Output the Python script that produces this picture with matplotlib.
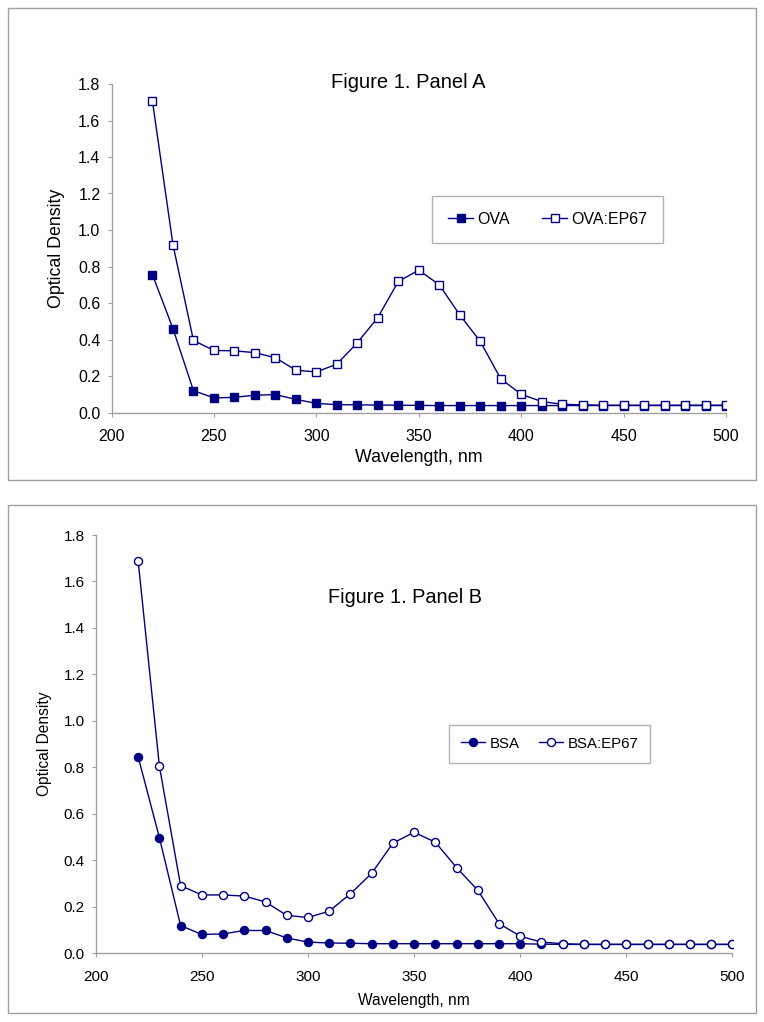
import numpy as np
import matplotlib
matplotlib.use("Agg")
from matplotlib import pyplot as plt
from matplotlib.patches import Rectangle
from matplotlib.ticker import FormatStrFormatter

plt.rcParams['font.family'] = ['Liberation Sans', 'DejaVu Sans']

# wavelengths, nm
wavelength = np.arange(220, 501, 10)

# panel A
ova = [0.755, 0.46, 0.12, 0.08, 0.083, 0.095, 0.098, 0.072, 0.05, 0.043,
       0.042, 0.041, 0.040, 0.039, 0.038, 0.038, 0.038, 0.038, 0.038, 0.038,
       0.038, 0.038, 0.038, 0.038, 0.038, 0.038, 0.038, 0.038, 0.038]
ova_ep67 = [1.705, 0.92, 0.395, 0.34, 0.338, 0.328, 0.30, 0.232, 0.222, 0.265,
            0.382, 0.52, 0.718, 0.78, 0.70, 0.535, 0.39, 0.185, 0.10, 0.06,
            0.045, 0.042, 0.04, 0.04, 0.04, 0.04, 0.04, 0.04, 0.04]

# panel B
bsa = [0.845, 0.497, 0.118, 0.08, 0.082, 0.097, 0.097, 0.065, 0.047, 0.043,
       0.042, 0.04, 0.04, 0.04, 0.04, 0.04, 0.04, 0.04, 0.04, 0.038,
       0.037, 0.037, 0.037, 0.037, 0.037, 0.037, 0.037, 0.037, 0.037]
bsa_ep67 = [1.688, 0.805, 0.29, 0.25, 0.25, 0.245, 0.22, 0.162, 0.153, 0.18,
            0.255, 0.343, 0.473, 0.52, 0.477, 0.368, 0.27, 0.127, 0.072, 0.047,
            0.04, 0.037, 0.037, 0.037, 0.037, 0.037, 0.037, 0.037, 0.037]

xticks = [200, 250, 300, 350, 400, 450, 500]
yticks = np.arange(0, 1.81, 0.2)

navy = '#000080'
grey = '#a0a0a0'

W, H = 764, 1022
fig = plt.figure(figsize=(W / 100, H / 100), dpi=100)

# outer frames around each panel (pixel coords -> figure fraction)
for (x0, y0, x1, y1) in [(8, 8, 756, 480), (8, 505, 756, 1013)]:
    fig.patches.append(Rectangle((x0 / W, 1 - y1 / H), (x1 - x0) / W, (y1 - y0) / H,
                                 transform=fig.transFigure, fill=False,
                                 edgecolor=grey, linewidth=1))


def px_axes(x0, y_top, x1, y_bot):
    return fig.add_axes([x0 / W, 1 - y_bot / H, (x1 - x0) / W, (y_bot - y_top) / H])


def setup(ax, tick_fs, label_fs, xlab_y, ylab_x):
    ax.set_xlim(200, 500)
    ax.set_ylim(0, 1.8)
    ax.set_xticks(xticks)
    ax.set_yticks(yticks)
    ax.yaxis.set_major_formatter(FormatStrFormatter('%.1f'))
    for s in ['top', 'right']:
        ax.spines[s].set_visible(False)
    for s in ['left', 'bottom']:
        ax.spines[s].set_color(grey)
        ax.spines[s].set_linewidth(1)
    ax.tick_params(direction='out', length=3, color=grey, labelsize=tick_fs)
    ax.tick_params(axis='x', pad=9)
    ax.tick_params(axis='y', pad=5)
    ax.set_xlabel('Wavelength, nm', fontsize=label_fs)
    ax.set_ylabel('Optical Density', fontsize=label_fs)
    ax.xaxis.set_label_coords(0.5, xlab_y)
    ax.yaxis.set_label_coords(ylab_x, 0.5)


# Panel A
axA = px_axes(111.5, 84, 726, 412.5)
axA.plot(wavelength, ova, '-s', color=navy, lw=1, ms=5.8, mfc=navy, mec=navy, label='OVA')
axA.plot(wavelength, ova_ep67, '-s', color=navy, lw=1, ms=5.8, mfc='white', mec=navy,
         label='OVA:EP67')
setup(axA, 11.5, 12.8, -0.11, -0.075)
fig.text(408 / W, 1 - 83 / H, 'Figure 1. Panel A', ha='center', va='center', fontsize=14.5)
legA = axA.legend(loc='center', bbox_to_anchor=((547.5 - 111.5) / 614.5, (412.5 - 219.5) / 328.5),
                  ncol=2, frameon=True, fancybox=False, edgecolor=grey, fontsize=11.5,
                  handlelength=1.6, columnspacing=2.0, borderpad=1.0, handletextpad=0.25,
                  markerscale=1.0)
legA.get_frame().set_linewidth(1)

# Panel B
axB = px_axes(95.7, 535, 732.5, 953)
axB.plot(wavelength, bsa, '-o', color=navy, lw=1, ms=5.8, mfc=navy, mec=navy, label='BSA')
axB.plot(wavelength, bsa_ep67, '-o', color=navy, lw=1, ms=5.8, mfc='white', mec=navy,
         label='BSA:EP67')
setup(axB, 11, 11.2, -0.095, -0.068)
fig.text(405 / W, 1 - 597 / H, 'Figure 1. Panel B', ha='center', va='center', fontsize=14.3)
legB = axB.legend(loc='center', bbox_to_anchor=((549.5 - 95.7) / 636.8, (953 - 743.5) / 418),
                  ncol=2, frameon=True, fancybox=False, edgecolor=grey, fontsize=10.8,
                  handlelength=1.6, columnspacing=1.3, borderpad=0.8, handletextpad=0.3)
legB.get_frame().set_linewidth(1)

fig.savefig('out.png', dpi=100)
